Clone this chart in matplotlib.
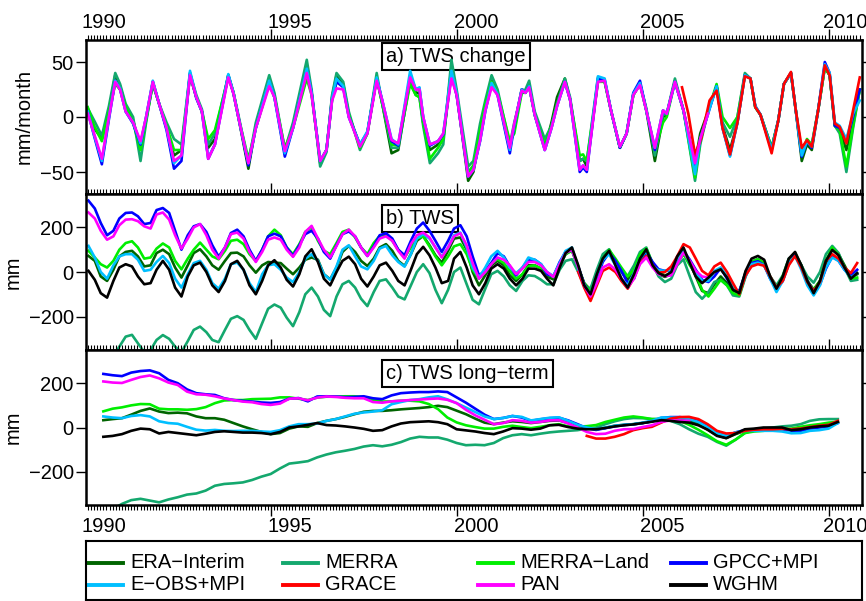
import numpy as np
import matplotlib
matplotlib.use('Agg')
import matplotlib.pyplot as plt
import matplotlib.transforms as mtransforms
from matplotlib.ticker import MultipleLocator, FixedLocator
from matplotlib.lines import Line2D

plt.rcParams['font.family'] = ['Liberation Sans', 'DejaVu Sans']
plt.rcParams['axes.unicode_minus'] = True

names = ['ERA\u2212Interim', 'MERRA', 'MERRA\u2212Land', 'GPCC+MPI',
         'E\u2212OBS+MPI', 'GRACE', 'PAN', 'WGHM']
colors = ['#006400', '#14A86E', '#00EE00', '#0000FF',
          '#00BFFF', '#FF0000', '#FF00FF', '#000000']
titles = ['a) TWS change', 'b) TWS', 'c) TWS long\u2212term']
ylabels = ['mm/month', 'mm', 'mm']
year_labels = [1990, 1995, 2000, 2005, 2010]

# ---------------- panel a: TWS change (mm/month) ----------------
a_t = [1990.08, 1990.25, 1990.46, 1990.65, 1990.82, 1990.95,
       1991.1, 1991.3, 1991.5, 1991.65, 1991.83,
       1992.0, 1992.2, 1992.4, 1992.6, 1992.83,
       1993.0, 1993.15, 1993.32, 1993.5, 1993.86,
       1994.0, 1994.13, 1994.4, 1994.6, 1994.96,
       1995.1, 1995.38, 1995.6, 1995.97,
       1996.1, 1996.33, 1996.5, 1996.65, 1996.77, 1996.95,
       1997.1, 1997.4, 1997.6, 1997.85,
       1998.0, 1998.25, 1998.43, 1998.75, 1998.9,
       1999.0, 1999.1, 1999.28, 1999.5, 1999.64, 1999.86,
       2000.0, 2000.31, 2000.45, 2000.63, 2000.77, 2000.94,
       2001.1, 2001.43, 2001.55, 2001.75, 2001.85, 2001.95,
       2002.1, 2002.37, 2002.55, 2002.7, 2002.91,
       2003.05, 2003.31, 2003.4, 2003.5, 2003.8, 2003.98,
       2004.15, 2004.39, 2004.57, 2004.75, 2004.93,
       2005.1, 2005.33, 2005.55, 2005.65, 2005.87,
       2006.1, 2006.41, 2006.55, 2006.76, 2006.99,
       2007.15, 2007.35, 2007.55, 2007.75, 2007.9,
       2008.03, 2008.17, 2008.47, 2008.65, 2008.8, 2008.99,
       2009.12, 2009.28, 2009.42, 2009.55, 2009.72, 2009.9,
       2010.03, 2010.17, 2010.3, 2010.48, 2010.66, 2010.84]

a_era = [5, -10, -20, 5, 38, 28,  10, -3, -28, -2, 30,  12, -10, -35, -30, 38,
         18, 5, -28, -20, 38,  22, 0, -47, -8, 35,  20, -33, -8, 47,
         22, -42, -30, 18, 38, 30,  2, -26, -14, 35,  12, -33, -30, 35, 22,
         22, -5, -30, -25, -20, 45,  22, -58, -50, -18, 10, 33,
         22, -28, -8, 25, 24, 28,  2, -28, -5, 18, 35,  16, -40, -38, -45, 33, 32,
         6, -28, -15, 20, 30,  6, -40, 0, 2, 33,  6, -42, -15, 5, 28,
         -8, -30, -5, 38, 35,  9, 2, -28, -3, 30, 40,  6, -40, -25, -30, 6, 45,
         38, -8, -12, -30, -5, 25]
a_merra = [8, -3, -17, 10, 40, 30,  12, 0, -40, -5, 32,  12, -5, -20, -25, 40,
           20, 7, -25, -15, 38,  22, 2, -42, -5, 38,  22, -30, -5, 52,
           25, -45, -32, 20, 40, 32,  5, -30, -15, 40,  12, -28, -28, 33, 20,
           18, -8, -42, -33, -25, 52,  25, -45, -40, -6, 15, 38,
           25, -25, -5, 22, 25, 33,  5, -20, -8, 12, 35,  18, -40, -38, -40, 36, 33,
           6, -28, -15, 20, 30,  8, -35, 2, 3, 35,  6, -58, -25, 5, 28,
           -5, -18, 0, 40, 35,  9, 2, -28, -3, 30, 40,  6, -35, -22, -25, 6, 45,
           38, -8, -15, -50, -10, 25]
a_land = [9, -8, -22, 5, 30, 25,  10, -5, -30, -3, 30,  12, -8, -30, -30, 38,
          18, 5, -20, -12, 36,  22, 0, -38, -10, 30,  18, -28, -10, 35,
          20, -40, -30, 15, 32, 28,  2, -28, -15, 36,  12, -25, -26, 30, 20,
          18, -5, -38, -28, -20, 40,  20, -50, -44, -12, 12, 32,
          22, -22, -15, 22, 22, 28,  2, -25, -8, 12, 32,  16, -35, -34, -40, 32, 32,
          6, -28, -15, 20, 30,  6, -30, -5, 0, 32,  6, -55, -22, 5, 30,
          0, -10, 0, 38, 35,  9, 2, -28, -3, 30, 40,  6, -33, -20, -25, 6, 45,
          38, -8, -12, -45, -8, 25]
a_gpcc = [5, -17, -43, -2, 33, 25,  5, -6, -25, 0, 32,  12, -12, -47, -40, 40,
          17, 5, -38, -25, 38,  21, 0, -44, -10, 32,  18, -36, -10, 43,
          22, -40, -30, 16, 32, 27,  0, -25, -14, 35,  15, -22, -26, 38, 25,
          26, 0, -26, -22, -16, 38,  20, -54, -48, -22, 5, 30,
          20, -33, -8, 25, 22, 28,  2, -30, -10, 10, 32,  16, -50, -46, -50, 35, 34,
          6, -28, -15, 22, 33,  6, -30, 6, 3, 32,  6, -48, -20, 3, 28,
          -10, -35, -5, 38, 35,  10, 2, -30, -3, 30, 40,  6, -36, -22, -28, 6, 50,
          40, -8, -10, -22, 0, 25]
a_eobs = [5, -16, -40, 0, 33, 26,  5, -5, -24, 0, 33,  12, -10, -42, -35, 42,
          18, 5, -37, -25, 39,  22, 0, -42, -10, 33,  18, -33, -10, 44,
          22, -40, -30, 17, 35, 28,  0, -25, -13, 36,  15, -20, -25, 42, 25,
          27, 0, -25, -22, -15, 42,  22, -54, -48, -21, 6, 31,
          21, -30, -7, 25, 22, 28,  2, -30, -10, 10, 32,  16, -48, -44, -48, 37, 35,
          6, -27, -15, 21, 31,  6, -28, 6, 3, 32,  6, -52, -20, 3, 28,
          -10, -36, -5, 38, 35,  10, 2, -30, -3, 30, 40,  6, -35, -22, -27, 6, 48,
          40, -5, -8, -20, 3, 15]
a_pan = [3, -15, -38, 0, 32, 25,  5, -5, -22, 0, 32,  12, -10, -40, -35, 38,
         18, 5, -38, -25, 36,  21, 0, -42, -10, 28,  18, -31, -10, 40,
         20, -40, -30, 15, 26, 25,  0, -27, -15, 33,  15, -21, -24, 36, 25,
         25, 0, -25, -22, -15, 35,  20, -54, -48, -21, 6, 27,
         20, -28, -6, 24, 22, 27,  2, -30, -10, 10, 32,  16, -48, -44, -48, 32, 33,
         6, -27, -15, 20, 29,  6, -28, 6, 3, 32,  6, -42, -20, 3]
a_grace_t = [2006.06, 2006.23, 2006.41, 2006.58, 2006.8, 2006.99, 2007.15, 2007.35,
             2007.55, 2007.75, 2007.9, 2008.03, 2008.17, 2008.47, 2008.65, 2008.8,
             2008.99, 2009.12, 2009.28, 2009.42, 2009.55, 2009.72, 2009.9, 2010.03,
             2010.17, 2010.3, 2010.48, 2010.66, 2010.84]
a_grace = [27, 3, -34, -19, 15, 24, -10, -34, -5, 37, 35, 9, 2, -33, -3, 30,
           41, 6, -28, -21, -27, 6, 47, 38, -6, -9, -24, 6, 36]

# ---------------- panel b: TWS (mm), bimonthly-ish samples ----------------
b_offsets = (0.1, 0.27, 0.43, 0.6, 0.77, 0.93)
b_t = [y + o for y in range(1990, 2011) for o in b_offsets][:125]

b_era = [72, 50, -20, -40, 10, 70,  90, 95, 70, 25, 30, 85,  100, 80, 20, -25, 30, 85,
         102, 70, 30, 10, 50, 85,  87, 70, 30, -3, 30, 45,  42, 40, 15, -10, 20, 55,
         65, 55, -10, -33, 20, 90,  117, 90, 50, 27, 60, 110,  125, 95, 50, 27, 80, 140,
         162, 120, 75, 42, 95, 150,  155, 100, 0, -60, -15, 30,  50, 30, -15, -40, -10, 30,
         30, 15, -20, -33, 30, 80,  100, 20, -50, -80, -5, 65,  95, 50, 0, -35, 10, 70,
         100, 35, -10, -22, -10, 45,  80, 40, -20, -85, -95, -55,  -20, -50, -85, -90, 0, 45,
         57, 40, -20, -70, -25, 50,  80, 30, -40, -80, -40, 40,  102, 80, 30, -25, -10]
b_merra = [-420, -440, -440, -420, -380, -335,  -290, -282, -320, -360, -350, -305,
           -283, -300, -335, -360, -310, -260,  -245, -270, -305, -315, -260, -210,
           -198, -215, -260, -300, -230, -165,  -146, -160, -205, -243, -180, -100,
           -70, -110, -170, -198, -110, -55,  -40, -70, -120, -153, -90, -40,
           -33, -70, -110, -123, -60, 0,  35, -5, -80, -140, -80, 0,
           20, -55, -125, -145, -75, -10,  5, -20, -60, -85, -40, -15,
           -18, -35, -55, -55, 10, 50,  57, 0, -60, -75, 10, 80,
           102, 50, 0, -18, 30, 90,  110, 35, -20, -45, -30, 30,
           57, -20, -90, -120, -90, -45,  -35, -60, -105, -110, -20, 45,
           57, 30, -20, -60, -15, 60,  80, 30, -20, -48, 0, 80,  117, 85, 20, -40, -35]
b_land = [95, 65, 35, 20, 50, 100,  130, 138, 110, 60, 65, 105,  128, 110, 50, 12, 60, 100,
          132, 100, 70, 57, 95, 140,  145, 125, 80, 50, 100, 160,  190, 165, 110, 80, 125, 180,
          200, 140, 95, 80, 130, 180,  190, 155, 110, 80, 130, 162,  168, 140, 100, 65, 110, 150,
          160, 115, 70, 30, 70, 115,  125, 80, 10, -30, 0, 40,  57, 40, 5, -30, -10, 25,
          30, 15, -10, -22, 35, 80,  95, 20, -50, -90, -20, 60,  99, 60, 20, -20, 10, 80,
          105, 40, 0, -15, -10, 45,  80, 30, -10, -80, -110, -75,  -35, -60, -95, -105, -15, 45,
          57, 40, -25, -75, -20, 55,  87, 25, -40, -78, -40, 50,  110, 75, 20, -30, -25]
b_gpcc = [320, 285, 220, 165, 185, 240,  265, 267, 250, 215, 220, 278,  287, 265, 185, 100, 165, 205,
          215, 180, 120, 69, 110, 175,  190, 160, 100, 50, 100, 160,  172, 160, 110, 72, 120, 170,
          185, 150, 90, 60, 120, 170,  182, 160, 110, 72, 115, 165,  174, 150, 100, 75, 140, 195,
          222, 185, 140, 90, 140, 195,  210, 160, 70, -15, 5, 40,  85, 70, 25, -15, 20, 55,
          55, 35, -10, -20, 45, 90,  100, 25, -55, -105, -30, 45,  87, 50, 5, -50, -30, 45,
          90, 45, 12, 5, 8, 40,  95, 55, 10, -35, -45, -20,  18, -30, -75, -85, -5, 40,
          48, 30, -30, -75, -40, 35,  80, 20, -40, -85, -55, 15,  70, 50, 10, -15, 10]
b_eobs = [117, 65, 0, -30, 30, 70,  80, 80, 55, 5, 10, 45,  72, 40, -30, -70, -10, 40,
          50, 10, -50, -75, -30, 35,  42, 10, -50, -90, -10, 30,  35, 10, -25, -45, 0, 60,
          80, 50, -10, -35, 25, 100,  120, 70, 25, 12, 50, 105,  117, 75, 45, 24, 80, 150,
          170, 150, 110, 68, 110, 165,  177, 110, 20, -25, 20, 70,  95, 65, 20, -5, 20, 65,
          55, 35, 0, -18, 40, 95,  110, 20, -60, -100, -15, 55,  80, 30, -30, -60, -5, 60,
          95, 25, 8, 5, 10, 60,  95, 40, 0, -40, -40, 5,  20, -20, -70, -90, -20, 35,
          42, 30, -30, -90, -40, 40,  72, 10, -60, -105, -60, 20,  65, 50, 10, -25, -5]
b_grace = [0, -70, -130, -60, 5,  20, 0, -40, -75, -25, 40,  72, 30, -3, 0, 25, 70,
           125, 110, 60, 5, -15, 25,  42, 0, -50, -100, -15, 25,  35, 28, -20, -70, -40, 30,
           72, 20, -45, -85, -45, 50,  80, 60, 20, -5, 40]
b_pan = [267, 240, 185, 145, 160, 210,  235, 237, 228, 205, 195, 258,  267, 235, 165, 105, 150, 200,
         215, 165, 100, 60, 110, 170,  177, 150, 90, 45, 90, 145,  155, 145, 100, 68, 110, 180,
         207, 150, 100, 65, 117, 170,  190, 160, 110, 72, 110, 150,  160, 140, 95, 60, 125, 165,
         177, 155, 110, 65, 110, 160,  174, 120, 40, -30, 0, 35,  65, 55, 30, -10, 15, 45,
         45, 30, 0, -22, 35, 85,  100, 20, -60, -110, -50, 20,  35, 10, -30, -70, -30, 35,
         65, 20, -10, -18, -15, 35,  87, 50, 5, -20, -25]
b_wghm = [5, -35, -95, -115, -40, 20,  35, 25, -20, -55, -50, 10,  50, 10, -70, -110, -20, 30,
          42, 0, -60, -90, -40, 35,  50, 10, -60, -100, -40, 30,  53, 20, -35, -65, -10, 70,
          102, 45, -30, -60, 0, 50,  69, 35, -30, -65, -20, 30,  42, 5, -40, -60, 10, 80,
          113, 75, 20, -50, -40, 60,  90, 20, -60, -100, -50, 15,  35, 15, -30, -60, -30, 15,
          15, 5, -30, -60, 20, 85,  110, 30, -60, -100, -10, 60,  95, 30, -30, -70, -10, 60,
          102, 30, -5, -18, 0, 70,  110, 40, -20, -50, -25, 0,  12, -25, -80, -95, 5, 60,
          72, 55, -20, -75, -20, 60,  90, 30, -40, -95, -40, 50,  99, 75, 20, -30, -5]

# ---------------- panel c: TWS long-term (mm), quarterly samples ----------------
c_t = [1990.5 + 0.25 * k for k in range(80)]

c_era = [33, 38, 42, 58, 75, 86, 72, 65, 67, 64,
         50, 42, 42, 35, 20, 5, -8, -20, -30, -25,
         -5, 5, 3, 20, 30, 38, 48, 60, 71, 75,
         75, 78, 82, 85, 88, 92, 98, 92, 76, 60,
         40, 22, 15, 22, 28, 25, 20, 25, 30, 32,
         20, 8, 0, -8, -2, 8, 12, 15, 20, 28,
         37, 38, 38, 32, 15, -10, -35, -48, -30, -15,
         -8, -5, -5, -5, -10, -8, 0, 5, 10, 25]
c_merra = [-370, -345, -328, -322, -330, -338, -325, -315, -303,
           -298, -285, -263, -255, -252, -248, -237, -222, -210, -185,
           -163, -158, -152, -135, -122, -112, -105, -97, -86, -80,
           -85, -78, -66, -50, -42, -45, -45, -55, -70, -80,
           -78, -80, -70, -48, -35, -30, -35, -28, -22, -18,
           -15, -12, -5, 0, 15, 28, 38, 43, 42, 38,
           38, 30, 15, -8, -28, -42, -65, -82, -55, -25,
           -12, -5, 0, 5, 8, 15, 30, 37, 38, 38]
c_land = [73, 85, 91, 100, 106, 105, 85, 82, 82, 80,
          83, 92, 110, 122, 124, 124, 128, 129, 130, 136,
          136, 130, 124, 135, 139, 139, 141, 141, 138, 125,
          117, 118, 121, 121, 118, 106, 83, 45, 23, 10,
          2, -5, -5, 3, 8, 2, -3, 3, 10, 15,
          5, 4, 6, 11, 25, 35, 45, 50, 45, 38,
          38, 35, 30, 12, -10, -35, -62, -78, -55, -25,
          -18, -15, -10, -7, -5, 3, 10, 15, 22, 26]
c_gpcc = [242, 236, 232, 248, 255, 258, 245, 215, 200, 172,
          155, 150, 147, 132, 124, 120, 117, 113, 111, 115,
          130, 133, 118, 140, 141, 140, 137, 138, 141, 132,
          128, 145, 155, 158, 160, 160, 163, 160, 136, 112,
          85, 58, 38, 43, 52, 45, 30, 37, 42, 44,
          32, 15, -3, -11, -3, 5, 11, 14, 20, 28,
          43, 47, 47, 42, 28, 5, -23, -38, -22, -12,
          -8, -5, -5, -8, -14, -15, -5, 0, 4, 20]
c_eobs = [50, 45, 42, 52, 56, 50, 28, 20, 17, 3,
          -10, -14, -11, -15, -16, -15, -15, -18, -20, -12,
          5, 15, 15, 18, 30, 38, 50, 62, 68, 72,
          78, 105, 115, 124, 128, 136, 141, 127, 110, 90,
          70, 50, 38, 43, 52, 48, 32, 38, 44, 46,
          30, 12, 0, -8, 0, 8, 12, 15, 22, 30,
          45, 45, 44, 38, 25, 2, -25, -38, -22, -15,
          -15, -15, -15, -18, -26, -25, -15, -12, -5, 20]
c_grace = [-38, -50, -50, -42, -30, -12, -3, 3, 22, 40, 47, 48, 38, 15,
           -15, -27, -25, -15, -10, -8, -8, -6, -8, -5, 2, 8, 12, 30]
c_pan = [208, 203, 201, 215, 228, 235, 222, 203, 192, 162,
         150, 148, 141, 131, 124, 117, 114, 106, 102, 108,
         130, 132, 123, 135, 140, 138, 134, 132, 132, 115,
         112, 118, 121, 124, 126, 129, 131, 125, 110, 80,
         55, 35, 15, 20, 33, 30, 22, 25, 32, 33,
         18, 0, -20, -30, -28, -15, -8, -7, 2, 10,
         25, 32, 32, 30]
c_wghm = [-42, -38, -30, -15, -5, -8, -27, -20, -25, -30,
          -35, -28, -20, -17, -20, -23, -23, -25, -30, -20,
          0, 5, 12, 20, 11, 9, 5, 0, -6, -15,
          -12, 5, 18, 24, 26, 28, 24, 15, -8, -13,
          -18, -25, -30, -18, -3, -5, -10, -5, 10, 12,
          2, -5, -8, -8, -2, 5, 10, 14, 20, 26,
          33, 30, 25, 22, 10, -10, -38, -48, -28, -8,
          -5, 0, 0, 0, -12, -8, 0, 5, 8, 25]

panel_a = [(a_t, a_era), (a_t, a_merra), (a_t, a_land), (a_t, a_gpcc),
           (a_t, a_eobs), (a_grace_t, a_grace), (a_t[:len(a_pan)], a_pan), None]
panel_b = [(b_t, b_era), (b_t, b_merra), (b_t, b_land), (b_t, b_gpcc),
           (b_t, b_eobs), (b_t[79:], b_grace), (b_t[:len(b_pan)], b_pan), (b_t, b_wghm)]
panel_c = [(c_t, c_era), (c_t[1:], c_merra), (c_t, c_land), (c_t, c_gpcc),
           (c_t, c_eobs), (c_t[52:], c_grace), (c_t[:len(c_pan)], c_pan), (c_t, c_wghm)]

# ---------------- layout ----------------
W, H = 866, 601
fig = plt.figure(figsize=(W / 100, H / 100), dpi=100)
L, R = 85.5, 862
bands = [(40, 194), (194, 350), (350, 505)]
ylims = [(-70, 70), (-350, 350), (-350, 350)]
yticks = [[-50, 0, 50], [-200, 0, 200], [-200, 0, 200]]
title_y = [0.893, 0.843, 0.848]
FS = 14.5

axes = []
for i, (top, bot) in enumerate(bands):
    ax = fig.add_axes([L / W, 1 - bot / H, (R - L) / W, (bot - top) / H])
    axes.append(ax)
    data = [panel_a, panel_b, panel_c][i]
    for (series, col) in zip(data, colors):
        if series is None:
            continue
        t, v = series
        ax.plot(t, v, color=col, lw=1.9, solid_joinstyle='round', zorder=2)
    ax.set_xlim(1990.02, 2010.9)
    ax.set_ylim(*ylims[i])
    for s in ax.spines.values():
        s.set_linewidth(1.8)
        s.set_zorder(5)
    ax.xaxis.set_major_locator(FixedLocator(year_labels))
    ax.xaxis.set_minor_locator(MultipleLocator(1 / 12))
    ax.tick_params(axis='x', which='both', direction='out', top=True, bottom=True,
                   labelbottom=False, labeltop=False)
    ax.tick_params(axis='x', which='major', length=8, width=1.0)
    ax.tick_params(axis='x', which='minor', length=3.6, width=0.8)
    ax.set_yticks(yticks[i])
    ax.tick_params(axis='y', which='major', direction='out', left=True, right=True,
                   length=7, width=1.0, labelsize=FS, pad=1.5)
    ax.set_ylabel(ylabels[i], fontsize=FS, labelpad=4)
    ax.text(0.387, title_y[i], titles[i], transform=ax.transAxes, ha='left',
            va='center', fontsize=FS, zorder=1.5,
            bbox=dict(boxstyle='square,pad=0.2', fc='white', ec='black', lw=1.5))

# year labels on top of panel a and bottom of panel c (left-aligned near tick)
top_ax, bot_ax = axes[0], axes[2]
for yr in year_labels:
    dx = -3 if yr != 2010 else -6
    tr_top = mtransforms.blended_transform_factory(top_ax.transData, top_ax.transAxes) + \
        mtransforms.ScaledTranslation(dx / 100, 12 / 100, fig.dpi_scale_trans)
    top_ax.text(yr, 1, str(yr), transform=tr_top, ha='left', va='baseline',
                fontsize=FS, clip_on=False)
    tr_bot = mtransforms.blended_transform_factory(bot_ax.transData, bot_ax.transAxes) + \
        mtransforms.ScaledTranslation(dx / 100, -12 / 100, fig.dpi_scale_trans)
    bot_ax.text(yr, 0, str(yr), transform=tr_bot, ha='left', va='top',
                fontsize=FS, clip_on=False)

# legend box
lax = fig.add_axes([L / W, 1 - 599.5 / H, (R - L) / W, 58.5 / H])
lax.set_xticks([])
lax.set_yticks([])
for s in lax.spines.values():
    s.set_linewidth(1.5)
lax.set_xlim(0, 1)
lax.set_ylim(0, 1)
col_x = [0.0036, 0.2547, 0.5058, 0.7544]
row_y = [0.625, 0.25]
hl = 35 / (R - L)
for k, (nm, col) in enumerate(zip(names, colors)):
    cx = col_x[k % 4]
    ry = row_y[k // 4]
    lax.add_line(Line2D([cx, cx + hl], [ry, ry], color=col, lw=2.8,
                        transform=lax.transAxes))
    lax.text(cx + hl + 7 / (R - L), ry, nm, transform=lax.transAxes,
             ha='left', va='center', fontsize=FS)

fig.savefig('out.png', dpi=100)
